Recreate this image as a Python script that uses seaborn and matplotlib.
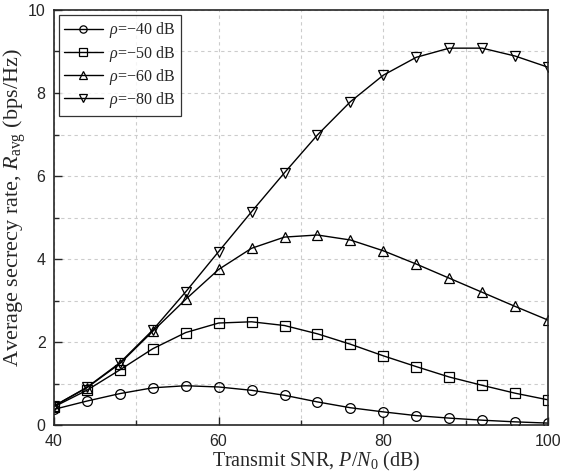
import numpy as np
import pandas as pd
import matplotlib
matplotlib.use("Agg")
import matplotlib.pyplot as plt
import seaborn as sns
from matplotlib.ticker import MultipleLocator

# transmit SNR P/N0 (dB)
snr = [40, 44, 48, 52, 56, 60, 64, 68, 72, 76, 80, 84, 88, 92, 96, 100]

# average secrecy rate (bps/Hz) for each rho
rate_40 = [0.38, 0.58, 0.76, 0.90, 0.95, 0.92, 0.84, 0.72, 0.56, 0.42, 0.32, 0.23, 0.17, 0.12, 0.08, 0.05]
rate_50 = [0.44, 0.84, 1.33, 1.84, 2.23, 2.46, 2.49, 2.40, 2.20, 1.95, 1.67, 1.41, 1.16, 0.96, 0.77, 0.61]
rate_60 = [0.46, 0.90, 1.48, 2.26, 3.03, 3.75, 4.26, 4.53, 4.58, 4.46, 4.20, 3.88, 3.54, 3.20, 2.86, 2.53]
rate_80 = [0.46, 0.91, 1.50, 2.29, 3.21, 4.18, 5.14, 6.08, 6.99, 7.79, 8.43, 8.86, 9.08, 9.08, 8.89, 8.62]

labels = [r"$\rho$=$-$40 dB", r"$\rho$=$-$50 dB", r"$\rho$=$-$60 dB", r"$\rho$=$-$80 dB"]
markers = ["o", "s", "^", "v"]

sns.set_style("ticks")
plt.rcParams["font.family"] = ["Liberation Sans", "DejaVu Sans"]
plt.rcParams["mathtext.fontset"] = "custom"
plt.rcParams["mathtext.rm"] = "Liberation Serif"
plt.rcParams["mathtext.it"] = "Liberation Serif:italic"
plt.rcParams["mathtext.bf"] = "Liberation Serif:bold"

fig = plt.figure(figsize=(5.61, 4.74), dpi=100)
ax = fig.add_axes([0.096, 0.103, 0.881, 0.876])

for vals, lab, mk in zip([rate_40, rate_50, rate_60, rate_80], labels, markers):
    df = pd.DataFrame({"snr": snr, "rate": vals})
    sns.lineplot(data=df, x="snr", y="rate", ax=ax, color="black", linewidth=1.0,
                 marker=mk, markersize=7, markerfacecolor="none",
                 markeredgecolor="black", markeredgewidth=0.9, label=lab)

ax.set_xlim(40, 100)
ax.set_ylim(0, 10)
ax.xaxis.set_major_locator(MultipleLocator(20))
ax.xaxis.set_minor_locator(MultipleLocator(10))
ax.yaxis.set_major_locator(MultipleLocator(2))
ax.yaxis.set_minor_locator(MultipleLocator(1))
ax.grid(True, which="both", linestyle=(0, (3, 3)), color="#cccccc", linewidth=0.8)
ax.set_axisbelow(True)
ax.tick_params(which="major", direction="in", length=6, width=1, labelsize=11.5, pad=6)
ax.tick_params(which="minor", direction="in", length=3.5, width=1)
for t in ax.get_xticklabels() + ax.get_yticklabels():
    t.set_fontfamily("Liberation Sans")
for sp in ax.spines.values():
    sp.set_linewidth(1.2)

ax.set_xlabel(r"Transmit SNR, $\it{P}$/$\it{N}_{\rm 0}$ (dB)", family="Liberation Serif",
              fontsize=14.5)
ax.set_ylabel(r"Average secrecy rate, $\it{R}_{\rm avg}$ (bps/Hz)", family="Liberation Serif",
              fontsize=16)
ax.xaxis.set_label_coords(0.531, -0.06)
ax.yaxis.set_label_coords(-0.052, 0.524)

leg = ax.legend(loc="upper left", prop={"family": "Liberation Serif", "size": 11.5},
                frameon=True, fancybox=False, edgecolor="black", handlelength=2.4,
                borderaxespad=0.3, labelspacing=0.2, handletextpad=0.4, borderpad=0.35,
                markerscale=0.75)
leg.get_frame().set_linewidth(0.9)

fig.savefig("out.png", dpi=100)
